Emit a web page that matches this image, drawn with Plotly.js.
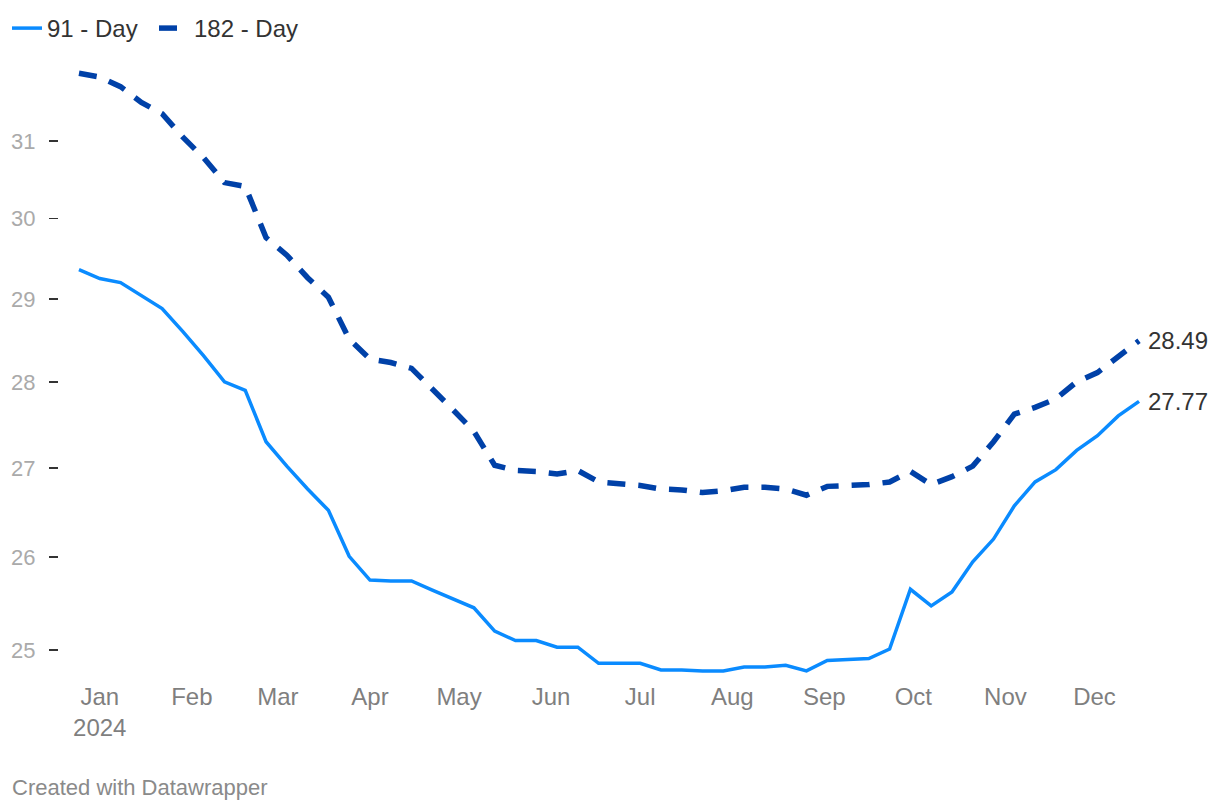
<!DOCTYPE html>
<html>
<head>
<meta charset="utf-8">
<script src="https://cdn.plot.ly/plotly-3.0.1.min.js"></script>
<style>
  html, body { margin: 0; padding: 0; background: #ffffff; }
  #chart { width: 1220px; height: 810px; }
</style>
</head>
<body>
<div id="chart"></div>
<script>
const dates = [
  '2024-01-08','2024-01-15','2024-01-22','2024-01-29',
  '2024-02-05','2024-02-12','2024-02-19','2024-02-26',
  '2024-03-04','2024-03-11','2024-03-18','2024-03-25',
  '2024-04-01','2024-04-08','2024-04-15','2024-04-22','2024-04-29',
  '2024-05-06','2024-05-13','2024-05-20','2024-05-27',
  '2024-06-03','2024-06-10','2024-06-17','2024-06-24',
  '2024-07-01','2024-07-08','2024-07-15','2024-07-22','2024-07-29',
  '2024-08-05','2024-08-12','2024-08-19','2024-08-26',
  '2024-09-02','2024-09-09','2024-09-16','2024-09-23','2024-09-30',
  '2024-10-07','2024-10-14','2024-10-21','2024-10-28',
  '2024-11-04','2024-11-11','2024-11-18','2024-11-25',
  '2024-12-02','2024-12-09','2024-12-16','2024-12-23','2024-12-30'
];

const day91 = [
  29.36, 29.25, 29.20, 29.04, 28.88, 28.60, 28.31, 28.00, 27.90, 27.30,
  27.02, 26.76, 26.52, 26.01, 25.75, 25.74, 25.74, 25.64, 25.54, 25.45,
  25.20, 25.10, 25.10, 25.03, 25.03, 24.86, 24.86, 24.86, 24.79, 24.79,
  24.78, 24.78, 24.82, 24.82, 24.84, 24.78, 24.89, 24.90, 24.91, 25.01,
  25.65, 25.47, 25.62, 25.95, 26.20, 26.57, 26.84, 26.98, 27.20, 27.37,
  27.60, 27.77
];

const day182 = [
  31.90, 31.85, 31.72, 31.51, 31.36, 31.05, 30.78, 30.46, 30.41, 29.76,
  29.54, 29.26, 29.02, 28.51, 28.27, 28.23, 28.16, 27.92, 27.67, 27.42,
  27.03, 26.97, 26.96, 26.93, 26.97, 26.84, 26.82, 26.80, 26.76, 26.75,
  26.72, 26.74, 26.78, 26.78, 26.76, 26.69, 26.79, 26.80, 26.81, 26.84,
  26.96, 26.81, 26.90, 27.02, 27.30, 27.62, 27.70, 27.80, 28.00, 28.11,
  28.30, 28.49
];

const seriesNames = ['91 - Day', '182 - Day'];
const xTickVals = ['2024-01-15','2024-02-15','2024-03-15','2024-04-15','2024-05-15','2024-06-15',
                   '2024-07-15','2024-08-15','2024-09-15','2024-10-15','2024-11-15','2024-12-15'];
const xTickText = ['Jan<br>2024','Feb','Mar','Apr','May','Jun','Jul','Aug','Sep','Oct','Nov','Dec'];
const yTickVals = [25, 26, 27, 28, 29, 30, 31];
const yTickText = ['25', '26', '27', '28', '29', '30', '31'];
const footerText = 'Created with Datawrapper';

const FONT = '"Liberation Sans", Arial, Helvetica, sans-serif';
const C91 = '#0a8bff';
const C182 = '#0041a8';

const traces = [
  {
    x: dates, y: day91, name: seriesNames[0], type: 'scatter', mode: 'lines',
    line: { color: C91, width: 3.5 }, hoverinfo: 'skip'
  },
  {
    x: dates, y: day182, name: seriesNames[1], type: 'scatter', mode: 'lines',
    line: { color: C182, width: 5.5, dash: '18px,13px' }, hoverinfo: 'skip'
  }
];

const W = 1220, H = 810;
const mL = 58, mR = 78, mT = 60, mB = 130;
const plotW = W - mL - mR;
const plotH = H - mT - mB;

const last = dates.length - 1;

const layout = {
  width: W, height: H,
  paper_bgcolor: '#ffffff', plot_bgcolor: '#ffffff',
  margin: { l: mL, r: mR, t: mT, b: mB, pad: 0 },
  font: { family: FONT, size: 24, color: '#333333' },
  showlegend: true,
  legend: {
    orientation: 'h', xref: 'container', yref: 'container',
    x: 7 / W, y: 1 - 6 / H, xanchor: 'left', yanchor: 'top',
    font: { family: FONT, size: 24, color: '#333333' },
    bgcolor: 'rgba(0,0,0,0)', borderwidth: 0,
    entrywidthmode: 'pixels', entrywidth: 102,
    itemclick: false, itemdoubleclick: false
  },
  xaxis: {
    type: 'date',
    domain: [(76 - mL) / plotW, 1],
    range: ['2024-01-07', '2024-12-31'],
    tickmode: 'array', tickvals: xTickVals, ticktext: xTickText,
    ticks: '', showgrid: false, zeroline: false, showline: false,
    ticklabelstandoff: 0,
    tickfont: { family: FONT, size: 24, color: '#7f7f7f' },
    fixedrange: true
  },
  yaxis: {
    type: 'log',
    anchor: 'free', position: 0,
    range: [1.392434, 1.506228],
    tickmode: 'array', tickvals: yTickVals, ticktext: yTickText,
    ticks: 'outside', ticklen: 9, tickwidth: 1.5, tickcolor: '#333333',
    ticklabelstandoff: 9,
    showgrid: false, zeroline: false, showline: false,
    tickfont: { family: FONT, size: 22, color: '#aaaaaa' },
    fixedrange: true
  },
  annotations: [
    {
      x: dates[last], y: Math.log10(day182[last]), xref: 'x', yref: 'y',
      text: day182[last].toFixed(2), showarrow: false,
      xanchor: 'left', yanchor: 'middle', xshift: 7,
      font: { family: FONT, size: 24, color: '#333333' }
    },
    {
      x: dates[last], y: Math.log10(day91[last]), xref: 'x', yref: 'y',
      text: day91[last].toFixed(2), showarrow: false,
      xanchor: 'left', yanchor: 'middle', xshift: 7,
      font: { family: FONT, size: 24, color: '#333333' }
    },
    {
      x: (10 - mL) / plotW, y: (mT + plotH - 787) / plotH, xref: 'paper', yref: 'paper',
      text: footerText, showarrow: false,
      xanchor: 'left', yanchor: 'middle',
      font: { family: FONT, size: 22, color: '#8a8a8a' }
    }
  ]
};

Plotly.newPlot('chart', traces, layout, { displayModeBar: false, staticPlot: true });
</script>
</body>
</html>
